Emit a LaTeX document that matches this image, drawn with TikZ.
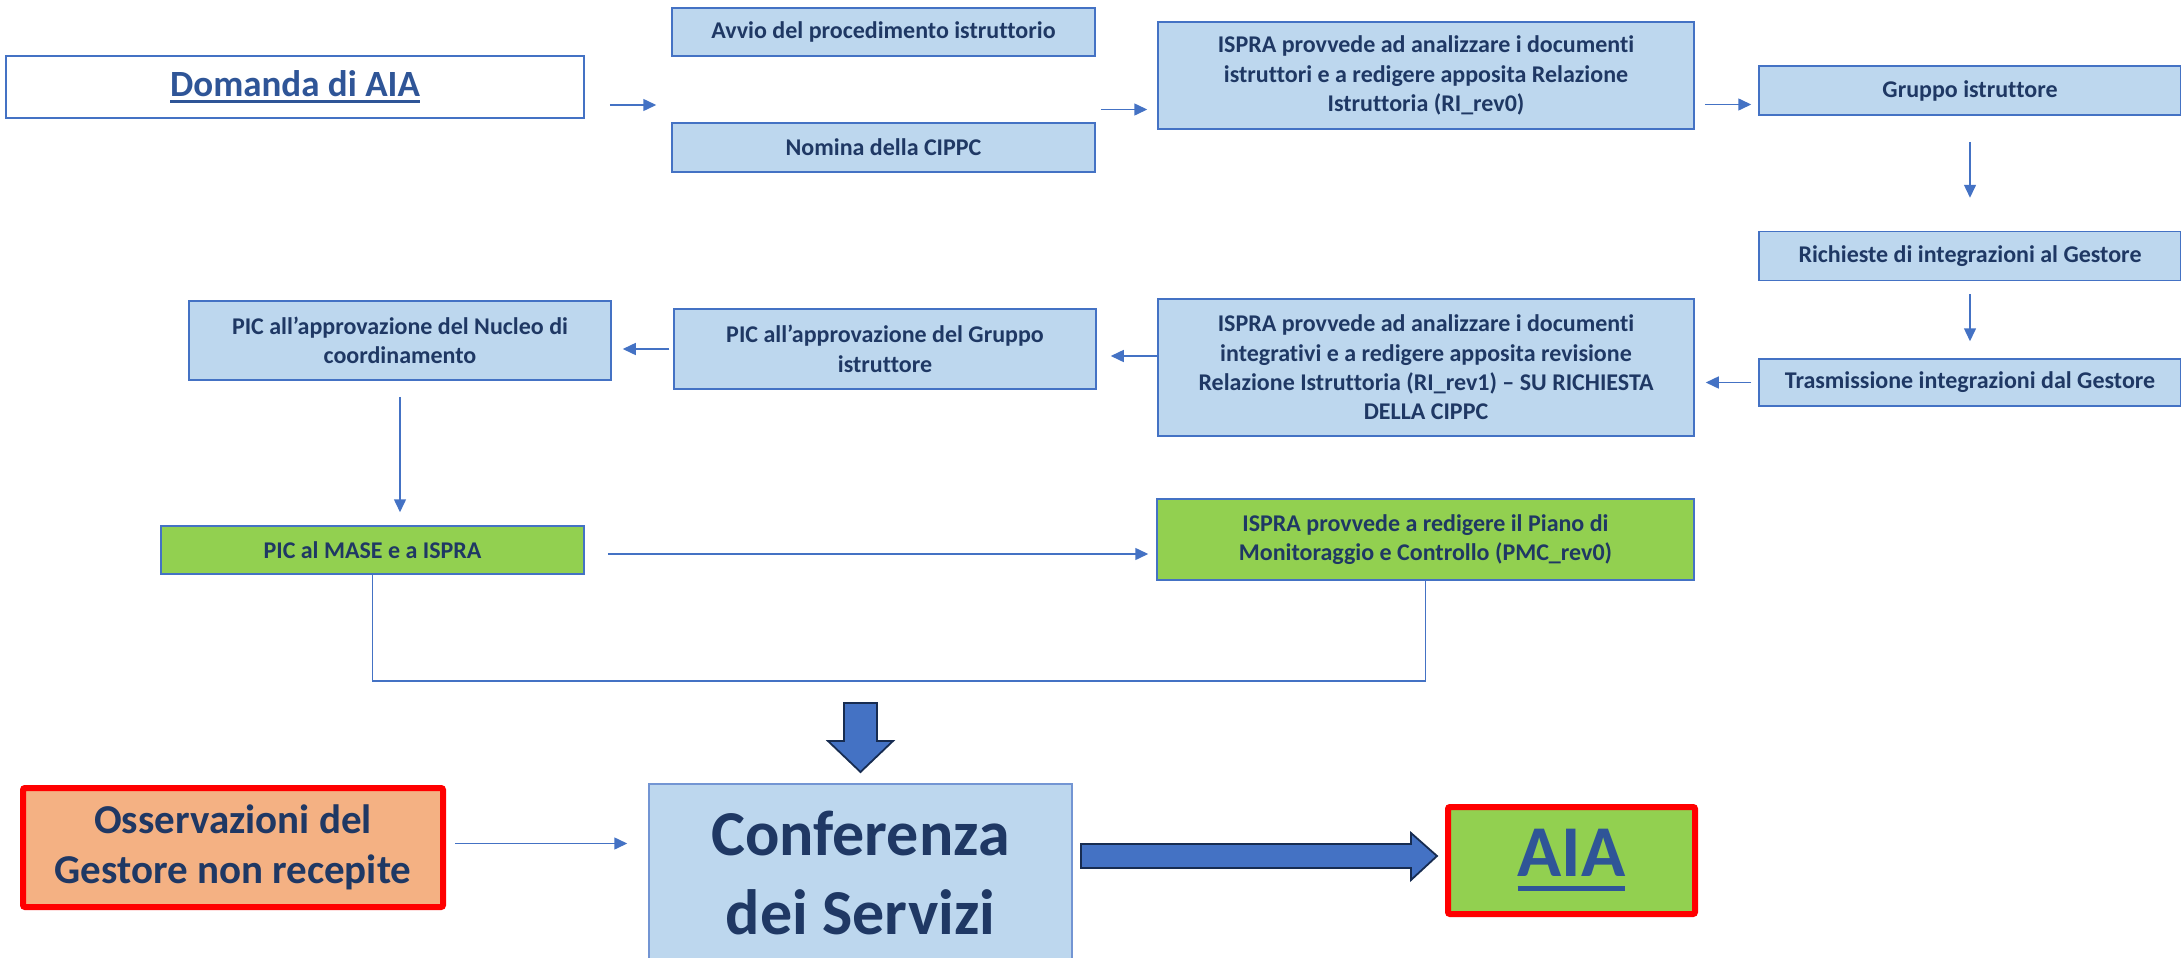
\documentclass[tikz,border=0pt]{standalone}
\usepackage{fontspec}
\setmainfont{Carlito}[Ligatures={NoCommon}]
\usetikzlibrary{arrows.meta,positioning,calc}

\definecolor{boxblue}{HTML}{BDD7EE}
\definecolor{edgeblue}{HTML}{4472C4}
\definecolor{txtnavy}{HTML}{1F3864}
\definecolor{linkblue}{HTML}{2F5597}
\definecolor{boxgreen}{HTML}{92D050}
\definecolor{boxorange}{HTML}{F4B183}
\definecolor{arrowdark}{HTML}{172C51}

% underlined title text: #1 text, #2 drop of the rule, #3 rule thickness
\newcommand{\ulinetxt}[3]{\setbox0\hbox{#1}\rlap{#1}\rule[-#2]{\wd0}{#3}}

\begin{document}
\begin{tikzpicture}
        [x = 0.5pt, y = -0.5pt, text = txtnavy,
        box/.style = {rectangle, draw=edgeblue, line width=0.75pt, fill=boxblue, align=center,
                      inner sep=0pt, font=\fontsize{12}{14.7}\selectfont\bfseries},
        greenbox/.style = {box, fill=boxgreen},
        redbox/.style = {rectangle, draw=red, line width=3pt, rounded corners=1pt, align=center, inner sep=0pt},
        conn/.style = {draw=edgeblue, line width=0.75pt, -{Triangle[length=6.5pt, width=6pt]}},
        link/.style = {draw=edgeblue, line width=0.75pt},
        bigarrow/.style = {draw=arrowdark, line width=0.9pt, fill=edgeblue, line join=miter}]

        \useasboundingbox (0,0) rectangle (2181,958);

        %% place elements on canvas
        \node[box, fill=white, minimum width=289pt, minimum height=31pt,
              font=\fontsize{18.5}{22}\selectfont\bfseries, text=linkblue] (domanda) at (295,87)
              {\ulinetxt{Domanda di AIA}{3.5pt}{1.5pt}};
        \node[box, minimum width=211.5pt, minimum height=24pt] (avvio) at (883.5,32)
              {Avvio del procedimento istruttorio};
        \node[box, minimum width=211.5pt, minimum height=24.5pt] (nomina) at (883.5,147.5)
              {Nomina della CIPPC};
        \node[box, minimum width=268pt, minimum height=53.5pt] (ispraA) at (1426,75.5)
              {ISPRA provvede ad analizzare i documenti\\istruttori e a redigere apposita Relazione\\Istruttoria (RI\_rev0)};
        \node[box, minimum width=211pt, minimum height=24.5pt] (gruppo) at (1970,90.5)
              {Gruppo istruttore};
        \node[box, minimum width=211pt, minimum height=24.5pt] (richieste) [below = 57.5pt of gruppo]
              {Richieste di integrazioni al Gestore};
        \node[box, minimum width=211pt, minimum height=23.5pt] (trasm) [below = 38.5pt of richieste]
              {Trasmissione integrazioni dal Gestore};
        \node[box, minimum width=268pt, minimum height=68.5pt] (ispraB) at (1426,367.5)
              {ISPRA provvede ad analizzare i documenti\\integrativi e a redigere apposita revisione\\Relazione Istruttoria (RI\_rev1) – SU RICHIESTA\\DELLA CIPPC};
        \node[box, minimum width=211pt, minimum height=40pt] (picG) at (885,349)
              {PIC all’approvazione del Gruppo\\istruttore};
        \node[box, minimum width=211pt, minimum height=39.5pt] (picN) at (400,340.5)
              {PIC all’approvazione del Nucleo di\\coordinamento};
        \node[greenbox, minimum width=211.5pt, minimum height=24pt] (mase) at (372.5,550)
              {PIC al MASE e a ISPRA};
        \node[greenbox, minimum width=268.5pt, minimum height=40.5pt] (ispraC) at (1425.5,539.5)
              {ISPRA provvede a redigere il Piano di\\Monitoraggio e Controllo (PMC\_rev0)};
        \node[redbox, fill=boxorange, minimum width=210pt, minimum height=59.5pt,
              font=\fontsize{20.5}{25}\selectfont\bfseries] (oss) at (233,847.5)
              {Osservazioni del\\Gestore non recepite};
        \node[box, draw=edgeblue!75, minimum width=211.5pt, minimum height=89pt,
              font=\fontsize{32}{39.5}\selectfont\bfseries] (conf) at (860.5,873)
              {Conferenza\\dei Servizi};
        \node[redbox, fill=boxgreen, minimum width=123.5pt, minimum height=53.5pt,
              font=\fontsize{36.5}{40}\selectfont\bfseries, text=linkblue] (aia) at (1571.5,860.5)
              {\ulinetxt{AIA}{7.2pt}{2.5pt}};
        \coordinate (merge) at (860.5,681);

        %% connect elements
        \draw[conn, shorten <=12.5pt, shorten >=7.5pt] ([yshift=-9pt]domanda.east) -- ([yshift=-9pt]domanda.east -| avvio.west);
        \draw[conn, shorten <=2.5pt, shorten >=5pt] ([yshift=-17pt]ispraA.west -| avvio.east) -- ([yshift=-17pt]ispraA.west);
        \draw[conn, shorten <=5pt, shorten >=3.5pt] ([yshift=-7pt]gruppo.west -| ispraA.east) -- ([yshift=-7pt]gruppo.west);
        \draw[conn, shorten <=13pt, shorten >=16.5pt] (gruppo) -- (richieste);
        \draw[conn, shorten <=6.5pt, shorten >=8.5pt] (richieste) -- (trasm);
        \draw[conn, shorten <=3.5pt, shorten >=5.5pt] (trasm.west) -- (trasm.west -| ispraB.east);
        \draw[conn, shorten >=7pt] ([yshift=-3.5pt]picG.east -| ispraB.west) -- ([yshift=-3.5pt]picG.east);
        \draw[conn, shorten <=2pt, shorten >=5.5pt] (picG.west) -- (picG.west -| picN.east);
        \draw[conn, shorten <=8pt, shorten >=6.5pt] (picN.south) -- (picN.south |- mase.north);
        \draw[conn, shorten <=11.5pt, shorten >=4pt] ([yshift=-2pt]mase.east) -- ([yshift=-2pt]mase.east -| ispraC.west);
        \draw[link] (mase.south) |- (merge) -| (ispraC.south);
        \draw[conn, shorten <=4.5pt, shorten >=10.5pt] ([yshift=2pt]oss.east) -- ([yshift=2pt]oss.east -| conf.west);

        %% block arrows
        \draw[bigarrow] (844,703) -- (877,703) -- (877,741) -- (893,741) -- (860.5,772)
                        -- (828,741) -- (844,741) -- cycle;
        \draw[bigarrow] (1081,844) -- (1411,844) -- (1411,833) -- (1437,856) -- (1411,880)
                        -- (1411,868) -- (1081,868) -- cycle;
    \end{tikzpicture}
\end{document}
